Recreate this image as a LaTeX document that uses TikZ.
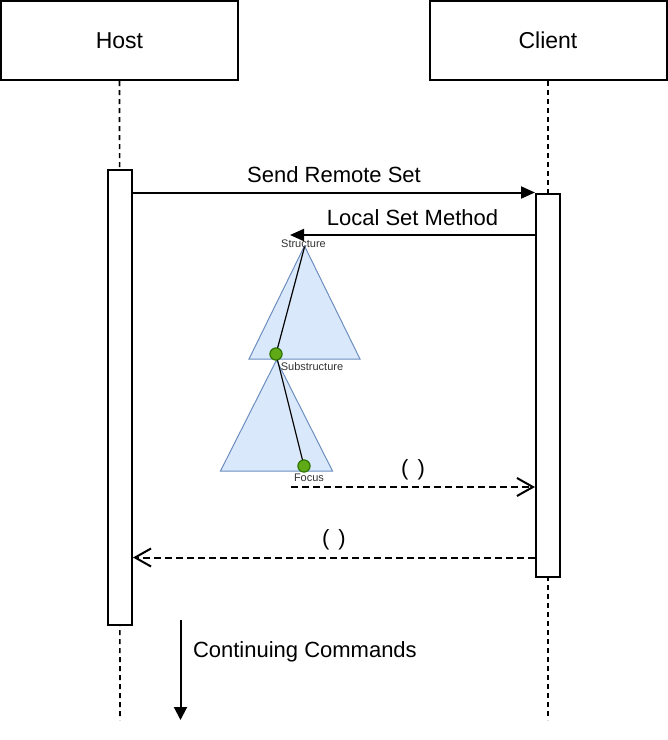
\documentclass[tikz,border=0pt]{standalone}
\usepackage{fontspec}
\setmainfont{Liberation Sans}
\usepackage{tikz}
\usetikzlibrary{arrows.meta, positioning, calc}

\definecolor{trifill}{HTML}{DAE8FC}
\definecolor{triline}{HTML}{6C8EBF}
\definecolor{jointfill}{HTML}{60A917}
\definecolor{jointline}{HTML}{2D7600}

\begin{document}
\begin{tikzpicture}[x=1pt, y=-1pt, line width=2pt,
    actor/.style={draw, minimum width=237pt, minimum height=79pt, font=\fontsize{23}{27}\selectfont},
    actbar/.style={draw, fill=white, minimum width=24pt, inner sep=0pt},
    lifeline/.style={line width=1.6pt, dash pattern=on 5pt off 4pt},
    msg/.style={-{Triangle[length=14pt,width=12pt]}},
    reply/.style={dash pattern=on 7pt off 4pt, -{Straight Barb[length=16pt,width=18pt]}},
    lbl/.style={font=\fontsize{22}{26}\selectfont},
    tinylabel/.style={font=\fontsize{11}{13}\selectfont, text=black!80, inner sep=0pt},
    treetri/.style={draw=triline, fill=trifill, line width=1pt},
    joint/.style={circle, draw=jointline, fill=jointfill, line width=1pt, minimum size=12pt, inner sep=0pt}]
        \useasboundingbox (0,0) rectangle (668,740);
        % Actors
        \node[actor] (host) at (119.5,40.5) {Host};
        \node[actor] (client) at (548,40.5) {Client};
        % Lifelines
        \coordinate (hostend) at (120,720);
        \coordinate (clientend) at (548,720);
        \draw[lifeline] (host.south) -- (hostend);
        \draw[lifeline] (client.south) -- (clientend);
        % Activation bars
        \node[actbar, minimum height=455pt] (hostact) at (120,397) {};
        \node[actbar, minimum height=383pt] (clientact) at (548,385) {};
        % Send Remote Set
        \draw[msg] (hostact.east |- clientact.north) -- (clientact.north west)
            node[midway, above=5pt, lbl] {Send Remote Set};
        % Local Set Method
        \coordinate (setend) at (290,235);
        \draw[msg] (clientact.west |- setend) -- (setend)
            node[midway, above=5pt, lbl] {Local Set Method};
        % Structure trees
        \draw[treetri] (304.5,246) -- (360,359) -- (249,359) -- cycle;
        \draw[treetri] (276.5,360) -- (332.5,471) -- (220.5,471) -- cycle;
        \coordinate (root) at (304.5,247);
        \node[joint] (sub) at (276,354) {};
        \node[joint] (focus) at (304,466) {};
        \draw[line width=1.2pt] (root) -- (sub.center) -- (focus.center);
        \node[joint] at (sub) {};
        \node[joint] at (focus) {};
        \node[tinylabel] (structlbl) at (303.5,244) {Structure};
        \node[tinylabel] (sublbl) at (312,366.5) {Substructure};
        \node[tinylabel] (focuslbl) at (309,478) {Focus};
        % Replies
        \coordinate (retstart) at (291,487);
        \draw[reply] (retstart) -- (clientact.west |- retstart)
            node[midway, above=3pt, lbl] {(\hspace{9pt})};
        \coordinate (backy) at (0,557.5);
        \draw[reply] (clientact.west |- backy) -- (hostact.east |- backy)
            node[midway, above=3pt, lbl] {(\hspace{9pt})};
        % Continuing Commands
        \coordinate (contstart) at (180.5,620);
        \coordinate (contend) at (180.5,720);
        \draw[-{Triangle[length=13pt,width=13pt]}] (contstart) -- (contend);
        \node[lbl, anchor=west, inner sep=0pt] (contlbl) at (192,652) {Continuing Commands};
    \end{tikzpicture}
\end{document}
